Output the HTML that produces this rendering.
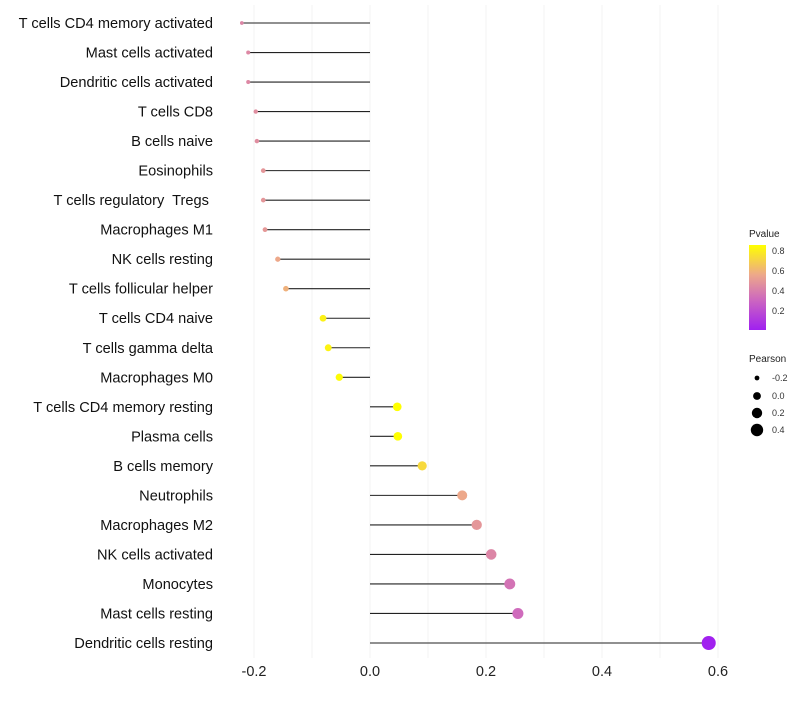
<!DOCTYPE html>
<html><head><meta charset="utf-8"><style>
body{margin:0;background:#fff;font-family:"Liberation Sans",sans-serif}
</style></head><body>
<svg id="chart" width="800" height="700" xmlns="http://www.w3.org/2000/svg" font-family="Liberation Sans, sans-serif">
<defs><linearGradient id="pgrad" x1="0" y1="1" x2="0" y2="0">
<stop offset="0" stop-color="#a020f0"/><stop offset="0.35" stop-color="#cc66c0"/><stop offset="0.65" stop-color="#eda88a"/><stop offset="1" stop-color="#ffff00"/></linearGradient></defs>
<g id="grid"></g><g id="marks"></g><g id="labels"></g>
<g>
<text x="749" y="237" font-size="10" fill="#222">Pvalue</text>
<rect x="749" y="245" width="17" height="85" fill="url(#pgrad)"/>
<text x="772" y="254" font-size="9" fill="#333">0.8</text>
<text x="772" y="274" font-size="9" fill="#333">0.6</text>
<text x="772" y="294" font-size="9" fill="#333">0.4</text>
<text x="772" y="314" font-size="9" fill="#333">0.2</text>
</g>
<g>
<text x="749" y="362" font-size="10" fill="#222">Pearson</text>
<circle cx="757" cy="378" r="2.4" fill="#000"/><text x="772" y="381" font-size="9" fill="#333">-0.2</text>
<circle cx="757" cy="396" r="3.9" fill="#000"/><text x="772" y="399" font-size="9" fill="#333">0.0</text>
<circle cx="757" cy="413" r="5.2" fill="#000"/><text x="772" y="416" font-size="9" fill="#333">0.2</text>
<circle cx="757" cy="430" r="6.2" fill="#000"/><text x="772" y="433" font-size="9" fill="#333">0.4</text>
</g>
</svg>
<script>
const categories=["T cells CD4 memory activated","Mast cells activated","Dendritic cells activated","T cells CD8","B cells naive","Eosinophils","T cells regulatory  Tregs ","Macrophages M1","NK cells resting","T cells follicular helper","T cells CD4 naive","T cells gamma delta","Macrophages M0","T cells CD4 memory resting","Plasma cells","B cells memory","Neutrophils","Macrophages M2","NK cells activated","Monocytes","Mast cells resting","Dendritic cells resting"];
const pearson=[-0.221,-0.210,-0.210,-0.197,-0.195,-0.184,-0.184,-0.181,-0.159,-0.145,-0.081,-0.072,-0.053,0.047,0.048,0.090,0.159,0.184,0.209,0.241,0.255,0.584];
const pvalues=[0.42,0.43,0.43,0.45,0.45,0.48,0.48,0.49,0.55,0.58,0.80,0.81,0.84,0.86,0.85,0.72,0.55,0.48,0.42,0.35,0.32,0.005];
const xTicks=[-0.2,0.0,0.2,0.4,0.6];
const xTickLabels=["-0.2","0.0","0.2","0.4","0.6"];
const NS="http://www.w3.org/2000/svg";
const x=v=>370+v*580;
const y=i=>23+i*(620/21);
const rad=v=>Math.sqrt(Math.max(1,3.5+(v+0.22)*57));
const stops=[[0,[160,32,240]],[0.3,[204,102,192]],[0.55,[237,168,138]],[0.85,[255,255,0]]];
function col(p){p=Math.min(0.85,Math.max(0,p));for(let k=1;k<stops.length;k++){if(p<=stops[k][0]){const a=stops[k-1],b=stops[k],t=(p-a[0])/(b[0]-a[0]);return "rgb("+a[1].map((c,j)=>Math.round(c+(b[1][j]-c)*t)).join(",")+")";}}return "rgb(255,255,0)";}
function mk(t,attrs,parent){const e=document.createElementNS(NS,t);for(const k in attrs)e.setAttribute(k,attrs[k]);parent.appendChild(e);return e;}
const grid=document.getElementById('grid'),marks=document.getElementById('marks'),labels=document.getElementById('labels');
for(let g=-0.2;g<=0.61;g+=0.1){const l=mk('line',{x1:x(g),x2:x(g),y1:5,y2:658,stroke:'#f0f0f0','stroke-width':0.8},grid);

}
xTicks.forEach((t,i)=>{const e=mk('text',{x:x(t),y:676,'font-size':14.5,'text-anchor':'middle',fill:'#222'},labels);e.textContent=xTickLabels[i];

});
categories.forEach((c,i)=>{
const t=mk('text',{x:213,y:y(i)+5,'font-size':14.6,'text-anchor':'end',fill:'#111','xml:space':'preserve'},labels);t.textContent=c;
t.setAttribute('style','white-space:pre');


const s=mk('line',{x1:x(0),x2:x(pearson[i]),y1:y(i),y2:y(i),stroke:'#222','stroke-width':1.1},marks);


const p=mk('circle',{cx:x(pearson[i]),cy:y(i),r:rad(pearson[i]),fill:col(pvalues[i])},marks);


});
</script>
</body></html>
